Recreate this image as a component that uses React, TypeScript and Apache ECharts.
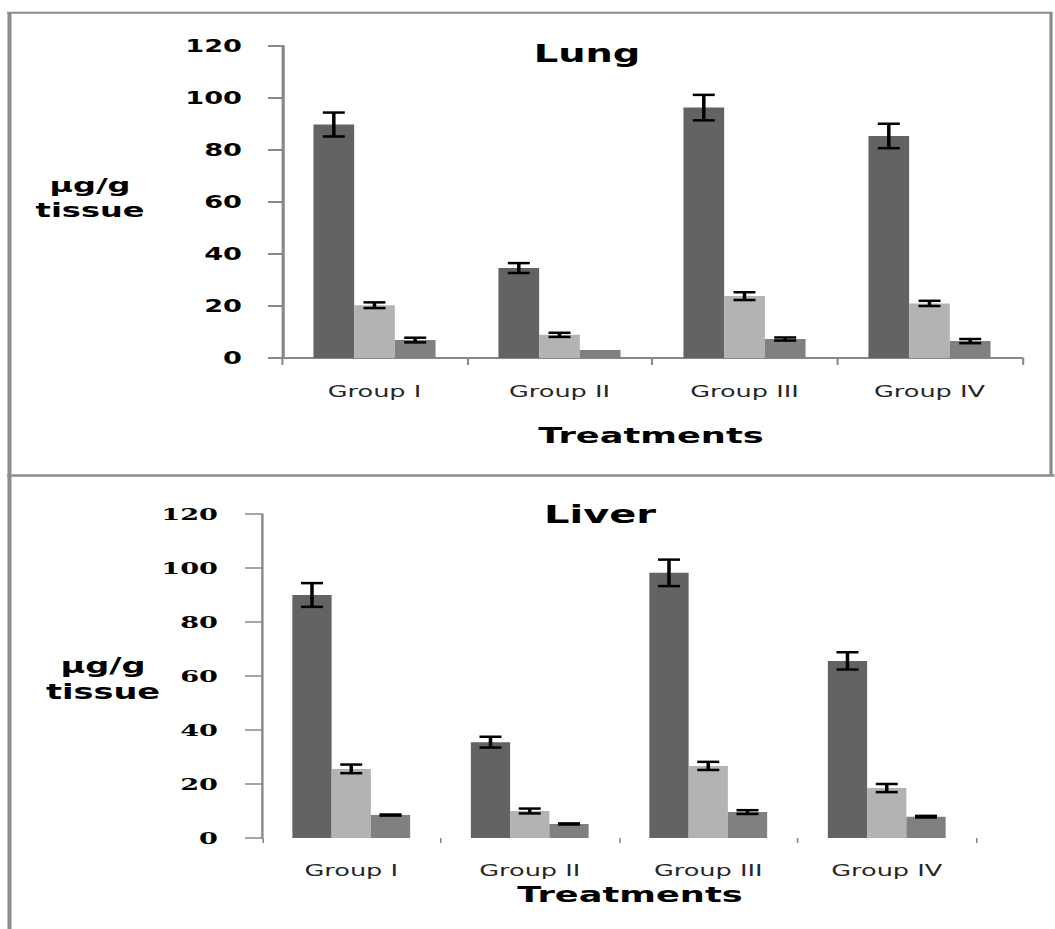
import React, { useEffect, useRef } from "react";
import * as echarts from "echarts";

// ---------- data ----------
const categories = ["Group I", "Group II", "Group III", "Group IV"];
const yMin = 0;
const yMax = 120;
const yInterval = 20;

const lungDark = [89.8, 34.6, 96.3, 85.4];
const lungDarkErr = [4.6, 1.9, 4.9, 4.7];
const lungLight = [20.3, 8.9, 23.8, 21.0];
const lungLightErr = [1.1, 0.8, 1.5, 1.0];
const lungMid = [6.9, 3.1, 7.3, 6.5];
const lungMidErr = [0.9, 0, 0.6, 0.8];

const liverDark = [90.0, 35.5, 98.2, 65.6];
const liverDarkErr = [4.4, 2.0, 4.9, 3.2];
const liverLight = [25.6, 10.0, 26.7, 18.5];
const liverLightErr = [1.6, 0.9, 1.5, 1.5];
const liverMid = [8.5, 5.2, 9.6, 7.9];
const liverMidErr = [0.2, 0.2, 0.7, 0.3];

const barColors = ["#636363", "#b3b3b3", "#808080"];

// ---------- layout ----------
const S = 1.6; // horizontal stretch of the reference picture
const W = 1055 / S;
const H = 929;
const GAP = 0.34;
const AXIS = "#888888";

function errData(vals: number[][], errs: number[][]) {
  const out: number[][] = [];
  vals.forEach((arr, k) => {
    arr.forEach((v, i) => {
      const e = errs[k][i];
      if (e > 0) out.push([i, v, e, k]);
    });
  });
  return out;
}

function renderErr(_params: any, api: any) {
  const cat = api.value(0);
  const v = api.value(1);
  const e = api.value(2);
  const k = api.value(3);
  const band = api.size([1, 0])[0];
  const bw = (band * (1 - GAP)) / 3;
  const cx = api.coord([cat, v])[0] + (k - 1) * bw;
  const yt = api.coord([cat, v + e])[1];
  const yb = api.coord([cat, v - e])[1];
  const hw = 11 / S;
  return {
    type: "group",
    children: [
      { type: "line", shape: { x1: cx, y1: yt, x2: cx, y2: yb }, style: { stroke: "#000", lineWidth: 2.2 } },
      { type: "line", shape: { x1: cx - hw, y1: yt, x2: cx + hw, y2: yt }, style: { stroke: "#000", lineWidth: 2.5 } },
      { type: "line", shape: { x1: cx - hw, y1: yb, x2: cx + hw, y2: yb }, style: { stroke: "#000", lineWidth: 2.5 } },
    ],
  };
}

function txt(text: string, x: number, y: number, size: number, extra: any = {}) {
  return {
    type: "text",
    x,
    y,
    silent: true,
    style: {
      text,
      fontSize: size,
      fontWeight: "bold",
      fontFamily: "DejaVu Sans",
      fill: "#000",
      align: "center",
      verticalAlign: "middle",
      textAlign: "center",
      textVerticalAlign: "middle",
      ...extra,
    },
  };
}

function ln(x1: number, y1: number, x2: number, y2: number, w: number) {
  return {
    type: "line",
    silent: true,
    shape: { x1, y1, x2, y2 },
    style: { stroke: "#8c8c8c", lineWidth: w },
  };
}

export default function App() {
  const ref = useRef<HTMLDivElement>(null);

  useEffect(() => {
    if (!ref.current) return;
    const chart = echarts.init(ref.current, undefined, { renderer: "svg" });

    const lungVals = [lungDark, lungLight, lungMid];
    const lungErrs = [lungDarkErr, lungLightErr, lungMidErr];
    const liverVals = [liverDark, liverLight, liverMid];
    const liverErrs = [liverDarkErr, liverLightErr, liverMidErr];

    const barSeries = (vals: number[][], gi: number) =>
      vals.map((d, k) => ({
        type: "bar",
        xAxisIndex: gi,
        yAxisIndex: gi,
        data: d,
        barGap: "0%",
        barCategoryGap: GAP * 100 + "%",
        itemStyle: { color: barColors[k] },
        silent: true,
      }));

    const option: any = {
      animation: false,
      backgroundColor: "#ffffff",
      grid: [
        { left: 282 / S, top: 46, width: 740 / S, height: 312 },
        { left: 262 / S, top: 514, width: 714 / S, height: 324 },
      ],
      xAxis: [
        {
          type: "category",
          gridIndex: 0,
          data: categories,
          axisLine: { show: true, lineStyle: { color: AXIS, width: 2 } },
          axisTick: { show: true, length: 7, lineStyle: { color: AXIS, width: 1.3 } },
          axisLabel: { margin: 25, fontSize: 16, fontFamily: "DejaVu Sans", color: "#262626" },
        },
        {
          type: "category",
          gridIndex: 1,
          data: categories,
          axisLine: { show: false },
          axisTick: { show: true, length: 5, lineStyle: { color: AXIS, width: 1 } },
          axisLabel: { margin: 24, fontSize: 16, fontFamily: "DejaVu Sans", color: "#262626" },
        },
      ],
      yAxis: [
        {
          type: "value",
          gridIndex: 0,
          min: yMin,
          max: yMax,
          interval: yInterval,
          axisLine: { show: true, lineStyle: { color: AXIS, width: 2 } },
          axisTick: { show: true, length: 14 / S, lineStyle: { color: AXIS, width: 2 } },
          splitLine: { show: false },
          axisLabel: { margin: 40 / S, fontSize: 17, fontWeight: "bold", fontFamily: "DejaVu Sans", color: "#000" },
        },
        {
          type: "value",
          gridIndex: 1,
          min: yMin,
          max: yMax,
          interval: yInterval,
          axisLine: { show: true, lineStyle: { color: AXIS, width: 1.5 } },
          axisTick: { show: true, length: 17 / S, lineStyle: { color: AXIS, width: 1.5 } },
          splitLine: { show: false },
          axisLabel: { margin: 44 / S, fontSize: 17, fontWeight: "bold", fontFamily: "DejaVu Serif", color: "#000" },
        },
      ],
      series: [
        ...barSeries(lungVals, 0),
        ...barSeries(liverVals, 1),
        {
          type: "custom",
          xAxisIndex: 0,
          yAxisIndex: 0,
          renderItem: renderErr,
          data: errData(lungVals, lungErrs),
          encode: { x: 0, y: 1 },
          silent: true,
          z: 5,
        },
        {
          type: "custom",
          xAxisIndex: 1,
          yAxisIndex: 1,
          renderItem: renderErr,
          data: errData(liverVals, liverErrs),
          encode: { x: 0, y: 1 },
          silent: true,
          z: 5,
        },
      ],
      graphic: [
        // frame
        ln(9.5 / S, 12, 9.5 / S, 929, 2.5),
        ln(7 / S, 12.7, 1052 / S, 12.7, 2),
        ln(1051 / S, 12, 1051 / S, 476, 2),
        ln(7 / S, 475.5, 1055 / S, 475.5, 2.5),
        // titles
        txt("Lung", 587 / S, 54, 24),
        txt("Liver", 600 / S, 514, 25),
        txt("µg/g\ntissue", 90 / S, 197, 20, { lineHeight: 25 }),
        txt("µg/g\ntissue", 103 / S, 679, 21, { lineHeight: 26 }),
        txt("Treatments", 651 / S, 436, 22),
        txt("Treatments", 630 / S, 895, 22),
      ],
    };

    chart.setOption(option);
    return () => chart.dispose();
  }, []);

  return (
    <div
      style={{
        position: "fixed",
        left: 0,
        top: 0,
        width: 1055,
        height: 929,
        overflow: "hidden",
        background: "#fff",
      }}
    >
      <div
        ref={ref}
        style={{ width: W, height: H, transform: `scaleX(${S})`, transformOrigin: "0 0" }}
      />
    </div>
  );
}
